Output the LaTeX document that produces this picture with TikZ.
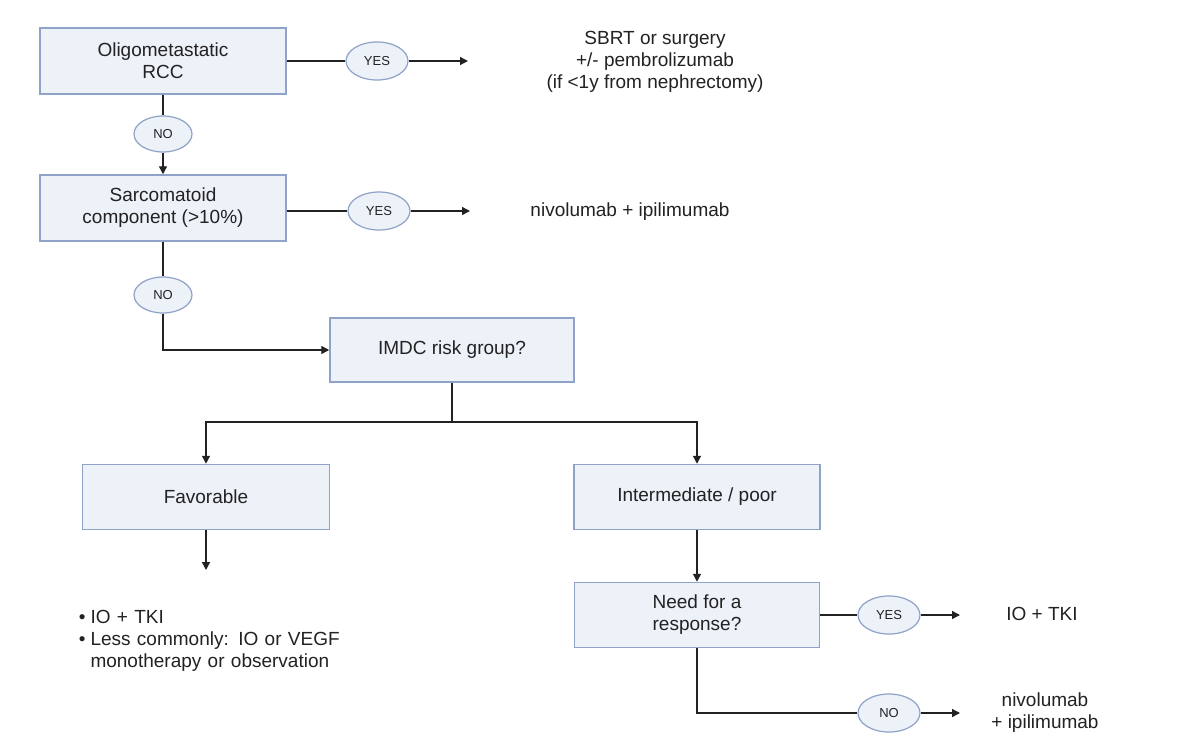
\documentclass[tikz,border=0pt]{standalone}
\usepackage{fontspec}
\setmainfont{Liberation Sans}
\usetikzlibrary{arrows.meta,shapes.geometric}
\definecolor{bfill}{HTML}{EDF1F8}
\definecolor{bline}{HTML}{8FA2C8}
\definecolor{tx}{HTML}{222222}
\begin{document}
\begin{tikzpicture}[x=1pt,y=-1pt,
  box/.style={draw=bline,line width=1.5pt,fill=bfill,minimum width=246pt,minimum height=66pt,align=center,font=\fontsize{19}{22}\selectfont,text=tx},
  oval/.style={ellipse,draw=bline,line width=1.2pt,fill=bfill,minimum width=62pt,minimum height=38pt,inner sep=0pt,font=\fontsize{13}{15}\selectfont,text=tx},
  ln/.style={line width=1.4pt,draw=tx},
  arr/.style={ln,-{Triangle[length=8pt,width=8pt]}},
  lbl/.style={align=center,font=\fontsize{19}{22}\selectfont,text=tx}]
\useasboundingbox (0,0) rectangle (1200,745);
\fill[white] (0,0) rectangle (1200,745);
\node[box] (olig) at (163,61) {Oligometastatic\\RCC};
\node[box] (sarc) at (163,208) {Sarcomatoid\\component (>10\%)};
\node[box,minimum width=244pt,minimum height=64pt] (imdc) at (452,350) {IMDC risk group?};
\node[box,minimum width=247pt,minimum height=65pt] (fav) at (206,497) {Favorable};
\node[box,minimum width=246pt,minimum height=65pt] (int) at (697,497) {Intermediate / poor};
\node[box,minimum width=245pt,minimum height=65pt] (need) at (697,615) {Need for a\\response?};
\node[oval] (y1) at (377,61) {YES};
\node[oval,minimum width=58pt,minimum height=36pt] (n1) at (163,134) {NO};
\node[oval] (y2) at (379,211) {YES};
\node[oval,minimum width=58pt,minimum height=36pt] (n2) at (163,295) {NO};
\node[oval] (y3) at (889,615) {YES};
\node[oval] (n3) at (889,713) {NO};
\coordinate (e1) at (468,61);
\coordinate (e2) at (470,211);
\coordinate (e3) at (960,615);
\coordinate (e4) at (960,713);
\coordinate (fe) at (206,570);
\node[lbl] (t1) at (655,62) {SBRT or surgery\\+/- pembrolizumab\\(if <1y from nephrectomy)};
\node[lbl] (t2) at (630,212) {nivolumab + ipilimumab};
\node[lbl] (t3) at (1042,614) {IO + TKI};
\node[lbl] (t4) at (1045,713) {nivolumab\\+ ipilimumab};
\node[lbl,align=left,anchor=north west,text width=280pt] (t5) at (62,590) {%
\begin{itemize}\setlength{\itemsep}{0pt}\setlength{\parskip}{0pt}\setlength{\leftmargin}{20pt}
\item IO + TKI
\item Less commonly: IO or VEGF monotherapy or observation
\end{itemize}};
\draw[ln] (olig.east|-y1) -- (y1);
\draw[arr] (y1) -- (e1);
\draw[ln] (olig) -- (n1);
\draw[arr] (n1) -- (sarc);
\draw[ln] (sarc.east|-y2) -- (y2);
\draw[arr] (y2) -- (e2);
\draw[ln] (sarc) -- (n2);
\draw[arr] (n2) |- (imdc);
\coordinate (j) at (452,422);
\draw[ln] (imdc) -- (j);
\draw[arr] (j) -| (fav);
\draw[arr] (j) -| (int);
\draw[arr] (fav) -- (fe);
\draw[arr] (int) -- (need);
\draw[ln] (need) -- (y3);
\draw[arr] (y3) -- (e3);
\draw[ln] (need) |- (n3);
\draw[arr] (n3) -- (e4);
\end{tikzpicture}
\end{document}
